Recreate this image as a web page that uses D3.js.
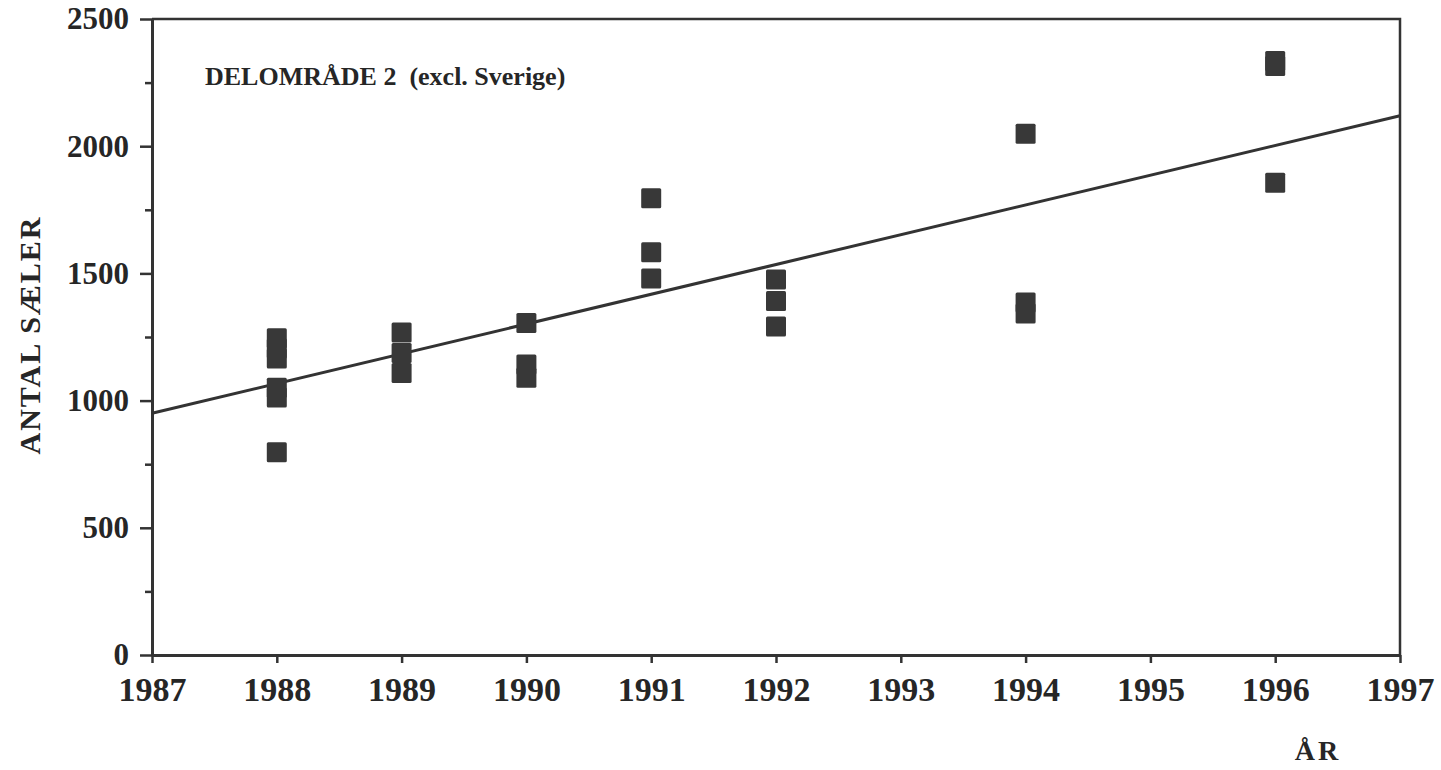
<!DOCTYPE html>
<html>
<head>
<meta charset="utf-8">
<script src="https://cdn.jsdelivr.net/npm/d3@7"></script>
<style>
  body { margin: 0; background: #fff; }
  svg text { font-family: "Liberation Serif", "Times New Roman", serif; font-weight: bold; fill: #262626; }
</style>
</head>
<body>
<div id="chart"></div>
<script>
// survey counts (one entry per square)
const pointYears  = [1988, 1988, 1988, 1988, 1988, 1988,
                     1989, 1989, 1989,
                     1990, 1990, 1990,
                     1991, 1991, 1991,
                     1992, 1992, 1992,
                     1994, 1994, 1994,
                     1996, 1996, 1996]
const pointValues = [1245, 1205, 1165, 1051, 1012, 797,
                     1268, 1187, 1108,
                     1305, 1142, 1090,
                     1795, 1583, 1480,
                     1476, 1392, 1291,
                     2049, 1386, 1342,
                     2335, 2315, 1856]

// fitted trend line, ends read at the frame edges
const trendYears  = [1987, 1997]
const trendValues = [950, 2120]

const xTicks      = [1987, 1988, 1989, 1990, 1991, 1992, 1993, 1994, 1995, 1996, 1997]
const yTicks      = [0, 500, 1000, 1500, 2000, 2500]
const yMinorTicks = [250, 750, 1250, 1750, 2250]

const title  = 'DELOMRÅDE 2  (excl. Sverige)'
const yTitle = 'ANTAL SÆLER'
const xTitle = 'ÅR'

const width = 1441
const height = 770
const ink = '#333'
const sq = 20

const svg = d3.select('#chart').append('svg')
  .attr('width', width)
  .attr('height', height)

const x = d3.scaleLinear().domain([1987, 1997]).range([152, 1400])
const y = d3.scaleLinear().domain([0, 2500]).range([655, 19])

// y axis, major then minor ticks
const yAxis = svg.append('g')
  .attr('transform', `translate(${x(1987)},0)`)
  .call(d3.axisLeft(y).tickValues(yTicks).tickFormat(d3.format('d')).tickSize(12).tickPadding(11).tickSizeOuter(0))
yAxis.select('.domain').attr('stroke', ink).attr('stroke-width', 3)
yAxis.selectAll('.tick line').attr('stroke', ink).attr('stroke-width', 2.5)
yAxis.selectAll('.tick text').style('font-size', '31px')

svg.append('g')
  .attr('transform', `translate(${x(1987)},0)`)
  .call(d3.axisLeft(y).tickValues(yMinorTicks).tickSize(7).tickFormat('').tickSizeOuter(0))
  .call(g => g.select('.domain').remove())
  .selectAll('.tick line').attr('stroke', ink).attr('stroke-width', 2.5)

// x axis
const xAxis = svg.append('g')
  .attr('transform', `translate(0,${y(0)})`)
  .call(d3.axisBottom(x).tickValues(xTicks).tickFormat(d3.format('d')).tickSize(8).tickPadding(14).tickSizeOuter(0))
xAxis.select('.domain').attr('stroke', ink).attr('stroke-width', 3)
xAxis.selectAll('.tick line').attr('stroke', ink).attr('stroke-width', 2.5)
xAxis.selectAll('.tick text').style('font-size', '34px')

// frame top and right
svg.append('path')
  .attr('d', `M${x(1987)},${y(2500)}H${x(1997)}V${y(0)}`)
  .attr('fill', 'none')
  .attr('stroke', ink)
  .attr('stroke-width', 2.5)

// trend line
const line = d3.line().x(d => x(d[0])).y(d => y(d[1]))
svg.append('path')
  .datum(d3.zip(trendYears, trendValues))
  .attr('d', line)
  .attr('fill', 'none')
  .attr('stroke', ink)
  .attr('stroke-width', 3)

// squares
svg.append('g')
  .selectAll('rect')
  .data(d3.zip(pointYears, pointValues))
  .join('rect')
  .attr('x', d => x(d[0]) - sq / 2)
  .attr('y', d => y(d[1]) - sq / 2)
  .attr('width', sq)
  .attr('height', sq)
  .attr('rx', 1.5)
  .attr('fill', '#383838')

// labels
svg.append('text')
  .attr('x', 205)
  .attr('y', 85)
  .style('font-size', '26px')
  .style('white-space', 'pre')
  .text(title)

svg.append('text')
  .attr('transform', `translate(40,${335}) rotate(-90)`)
  .attr('text-anchor', 'middle')
  .style('font-size', '30px')
  .attr('letter-spacing', 2)
  .text(yTitle)

svg.append('text')
  .attr('x', 1318)
  .attr('y', 760)
  .attr('text-anchor', 'middle')
  .style('font-size', '28px')
  .attr('letter-spacing', 3)
  .text(xTitle)
</script>
</body>
</html>
